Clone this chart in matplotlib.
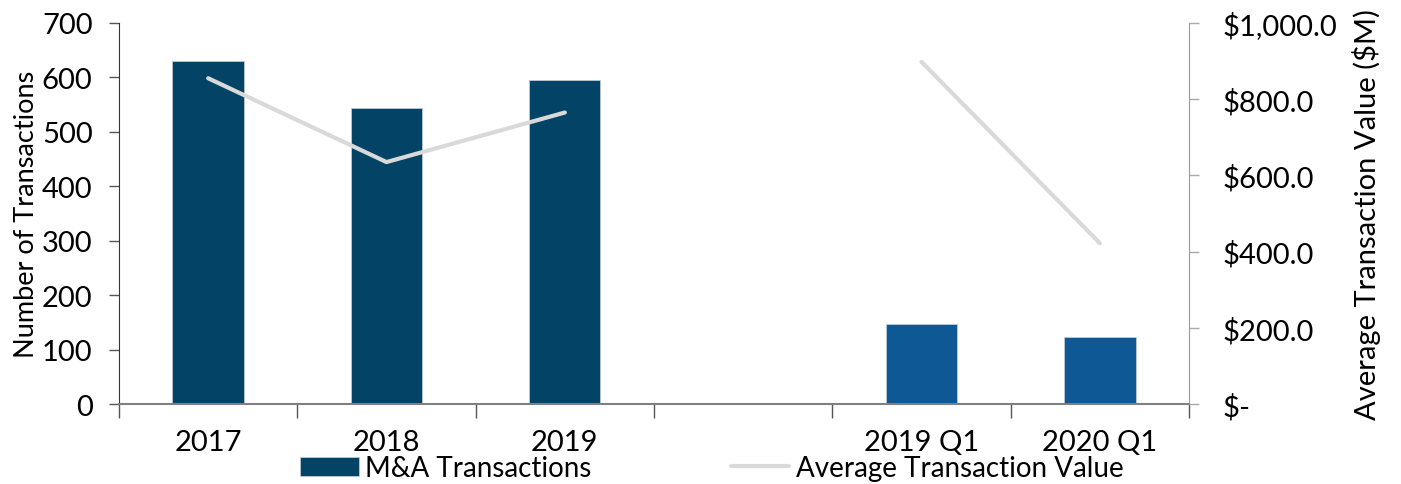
import matplotlib
matplotlib.use("Agg")
import matplotlib.pyplot as plt
import numpy as np

categories = ["2017", "2018", "2019", "", "2019 Q1", "2020 Q1"]
transactions = [630, 543, 596, np.nan, 147, 124]
avg_value = [855, 635, 765, np.nan, 898, 422]
bar_colors = ["#034366", "#034366", "#034366", "#034366", "#0f5896", "#0f5896"]

plt.rcParams['font.family'] = ['Lato', 'DejaVu Sans']
fs = 21

fig = plt.figure(figsize=(14.01, 4.85), dpi=100)
ax = fig.add_axes([119/1401, 1 - 405/485, (1189 - 119)/1401, (405 - 24)/485])
x = np.arange(len(categories))
bars = ax.bar(x, transactions, width=0.4, color=bar_colors, edgecolor="#c8d0d8", linewidth=0.5,
              label="M&A Transactions", zorder=2)
ax.set_xlim(-0.5, len(categories) - 0.5)
ax.set_ylim(0, 700)
ax.set_yticks(range(0, 701, 100))
ax.set_ylabel("Number of Transactions", fontsize=19.5, labelpad=2)
ax.tick_params(axis='y', labelsize=fs, length=7, width=1, color="#555555", pad=12)
ax.set_xticks(x)
ax.set_xticklabels(categories, fontsize=fs)
ax.tick_params(axis='x', length=0, pad=18)
ax.set_xticks(np.arange(-0.5, len(categories), 1.0), minor=True)
ax.tick_params(axis='x', which='minor', length=10, width=1, color="#555555")
ax.spines['top'].set_visible(False)
ax.spines['right'].set_visible(False)
ax.spines['left'].set_color("#333333")
ax.spines['bottom'].set_color("#808080")
ax.spines['bottom'].set_linewidth(1.5)

ax2 = ax.twinx()
line, = ax2.plot(x, avg_value, color="#d9d9d9", linewidth=3, solid_capstyle='round',
                 label="Average Transaction Value", zorder=3)
ax2.set_ylim(0, 1000)
ax2.set_yticks(range(0, 1001, 200))
ax2.set_yticklabels(["$-"] + [f"${v:,.1f}" for v in range(200, 1001, 200)])
ax2.tick_params(axis='y', labelsize=fs, length=7, width=1, color="#aaaaaa", pad=17)
ax2.set_ylabel("Average Transaction Value ($M)", fontsize=fs, labelpad=11)
ax2.spines['top'].set_visible(False)
ax2.spines['left'].set_visible(False)
ax2.spines['bottom'].set_visible(False)
ax2.spines['right'].set_color("#999999")
ax2.set_zorder(ax.get_zorder() + 1)
ax2.patch.set_visible(False)

handles = [bars, line]
labels = ["M&A Transactions", "Average Transaction Value"]
fig.legend(handles, labels, loc='center', bbox_to_anchor=(712/1401, 1 - 469/485), ncol=2,
           frameon=False, fontsize=20, columnspacing=5.0, handlelength=2.1, handletextpad=0.25,
           borderaxespad=0)

fig.savefig("out.png", dpi=100)
